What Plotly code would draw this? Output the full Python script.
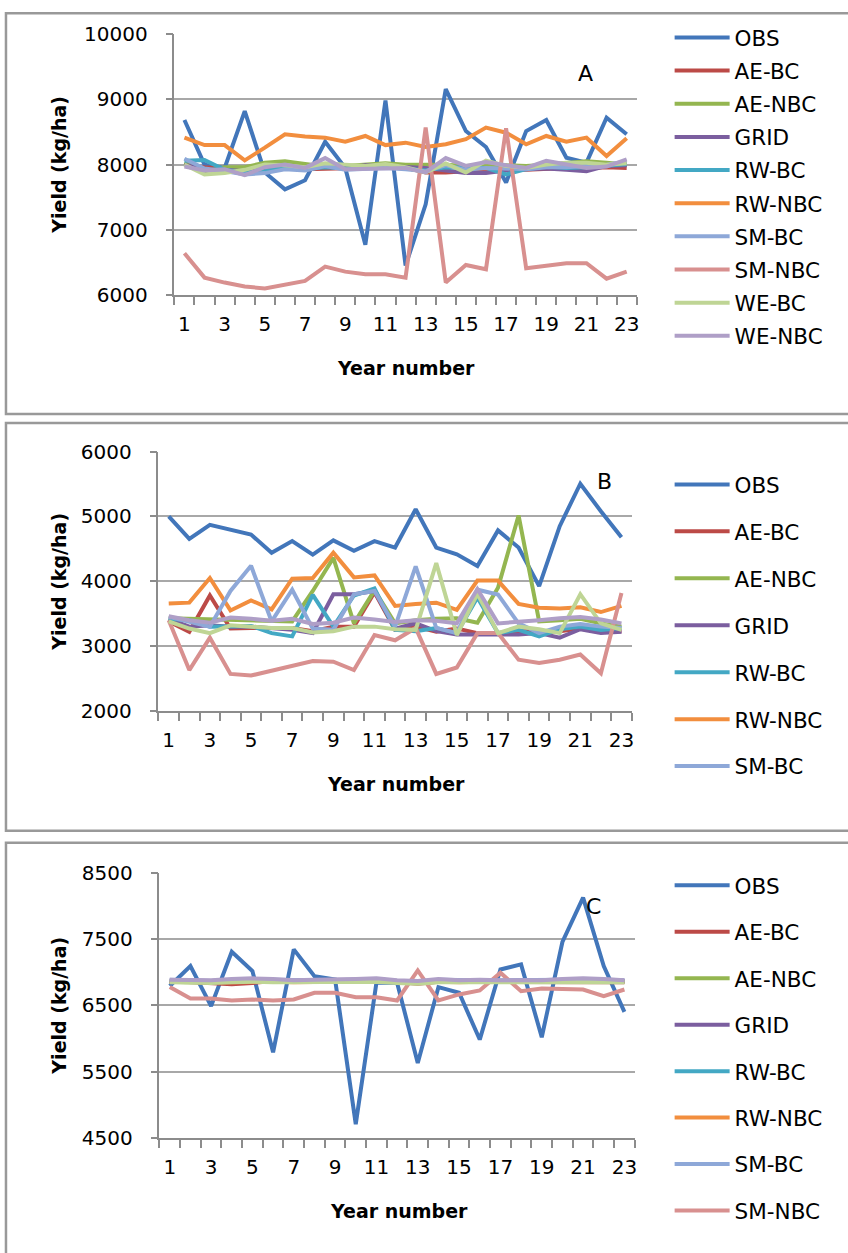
import plotly.graph_objects as go

years = list(range(1, 24))
tick_years = list(range(1, 24, 2))
tick_labels = [str(v) for v in tick_years]

series_names = ["OBS", "AE-BC", "AE-NBC", "GRID", "RW-BC", "RW-NBC", "SM-BC", "SM-NBC", "WE-BC", "WE-NBC"]
series_colors = ["#4276BA", "#BC4A47", "#94B650", "#7B5E9F", "#43A8C4", "#F28E3E",
                 "#8EA8D8", "#D8908F", "#BFD595", "#AF9FC7"]

# ---------- Panel A ----------
a_obs = [8685, 8000, 7950, 8820, 7880, 7620, 7760, 8350, 7950, 6770, 8985, 6450, 7390, 9160,
         8515, 8270, 7725, 8515, 8685, 8105, 8030, 8720, 8465]
a_ae_bc = [8000, 7960, 7940, 7950, 7950, 7960, 7930, 7940, 7950, 7960, 7960, 7950, 7880, 7880,
           7900, 7900, 7920, 7920, 7940, 7950, 7950, 7960, 7950]
a_ae_nbc = [8030, 7900, 7960, 7960, 8030, 8050, 8010, 7970, 7980, 8000, 8020, 8000, 8000, 8000,
            7980, 8000, 7990, 7980, 8000, 8030, 8050, 8030, 8000]
a_grid = [8000, 7930, 7920, 7900, 7930, 7960, 7950, 7970, 7950, 7990, 7980, 7960, 7950, 7910,
          7870, 7870, 7910, 7930, 7940, 7920, 7900, 7980, 7990]
a_rw_bc = [8060, 8070, 7920, 7880, 7900, 7960, 7930, 7960, 7940, 7960, 7970, 7940, 7910, 7960,
           7950, 7950, 7850, 7930, 7970, 7950, 7960, 7980, 8010]
a_rw_nbc = [8414, 8300, 8300, 8066, 8260, 8465, 8430, 8414, 8353, 8440, 8300, 8337, 8270, 8312,
            8390, 8568, 8490, 8312, 8440, 8353, 8414, 8133, 8405]
a_sm_bc = [8090, 7940, 7900, 7850, 7870, 7930, 7910, 7980, 7920, 7940, 7950, 7930, 7900, 7990,
           7920, 7950, 7940, 7930, 7960, 7960, 7980, 8000, 8050]
a_sm_nbc = [6640, 6266, 6190, 6130, 6100, 6164, 6215, 6435, 6358, 6317, 6317, 6266, 8568, 6190,
            6460, 6394, 8558, 6410, 6445, 6486, 6486, 6250, 6358]
a_we_bc = [8000, 7850, 7870, 7920, 8000, 7990, 7960, 8020, 8000, 7980, 8010, 7960, 7880, 8020,
           7880, 8060, 7980, 7950, 8000, 8030, 8030, 8000, 8020]
a_we_nbc = [7970, 7910, 7930, 7840, 7960, 8000, 7950, 8100, 7930, 7940, 7950, 7950, 7880, 8100,
            7980, 8040, 7990, 7950, 8060, 8010, 7950, 7970, 8080]

# ---------- Panel B ----------
b_obs = [5000, 4655, 4870, 4800, 4720, 4440, 4620, 4410, 4630, 4470, 4620, 4520, 5110, 4520,
         4415, 4235, 4785, 4520, 3925, 4850, 5505, 5080, 4680]
b_ae_bc = [3380, 3220, 3780, 3270, 3280, 3280, 3280, 3230, 3300, 3300, 3830, 3250, 3300, 3220,
           3270, 3200, 3200, 3230, 3230, 3230, 3270, 3220, 3230]
b_ae_nbc = [3430, 3420, 3410, 3400, 3400, 3390, 3380, 3850, 4360, 3350, 3860, 3350, 3400, 3420,
            3430, 3360, 3900, 5015, 3380, 3400, 3420, 3350, 3300]
b_grid = [3420, 3300, 3320, 3300, 3300, 3280, 3250, 3200, 3800, 3800, 3850, 3270, 3350, 3230,
          3180, 3180, 3180, 3180, 3200, 3130, 3260, 3200, 3220]
b_rw_bc = [3420, 3400, 3300, 3300, 3310, 3200, 3150, 3790, 3300, 3780, 3890, 3250, 3230, 3280,
           3200, 3750, 3200, 3250, 3150, 3260, 3300, 3250, 3280]
b_rw_nbc = [3655, 3670, 4050, 3550, 3705, 3565, 4040, 4050, 4440, 4060, 4090, 3620, 3650, 3670,
            3560, 4010, 4010, 3650, 3590, 3580, 3600, 3525, 3620]
b_sm_bc = [3450, 3380, 3300, 3850, 4240, 3380, 3870, 3270, 3250, 3800, 3850, 3300, 4230, 3280,
           3200, 3870, 3795, 3350, 3200, 3300, 3340, 3300, 3280]
b_sm_nbc = [3400, 2630, 3130, 2570, 2545, 2620, 2710, 2770, 2760, 2630, 3170, 3090, 3280, 2570,
            2670, 3200, 3200, 2790, 2740, 2790, 2870, 2580, 3820]
b_we_bc = [3380, 3270, 3200, 3320, 3300, 3280, 3280, 3210, 3230, 3300, 3300, 3260, 3250, 4280,
           3170, 3805, 3200, 3300, 3260, 3200, 3800, 3350, 3250]
b_we_nbc = [3460, 3400, 3360, 3440, 3420, 3390, 3420, 3340, 3360, 3440, 3410, 3370, 3400, 3390,
            3350, 3880, 3350, 3370, 3400, 3430, 3450, 3410, 3350]

# ---------- Panel C ----------
c_obs = [6795, 7096, 6490, 7313, 7020, 5793, 7348, 6944, 6894, 4707, 6843, 6843, 5631, 6778,
         6692, 5985, 7045, 7121, 6020, 7460, 8131, 7096, 6404]
c_ae_bc = [6870, 6850, 6840, 6820, 6840, 6870, 6860, 6860, 6870, 6870, 6880, 6860, 6830, 6860,
           6860, 6860, 6850, 6860, 6860, 6850, 6850, 6850, 6850]
c_ae_nbc = [6860, 6850, 6860, 6860, 6870, 6870, 6860, 6860, 6860, 6860, 6870, 6860, 6840, 6860,
            6860, 6870, 6870, 6870, 6880, 6880, 6890, 6880, 6870]
c_grid = [6880, 6870, 6870, 6880, 6890, 6880, 6880, 6880, 6880, 6880, 6890, 6870, 6860, 6880,
          6870, 6880, 6870, 6880, 6870, 6880, 6880, 6880, 6870]
c_rw_bc = [6870, 6860, 6850, 6860, 6870, 6860, 6860, 6860, 6860, 6860, 6870, 6850, 6840, 6870,
           6860, 6860, 6860, 6870, 6870, 6860, 6860, 6870, 6860]
c_rw_nbc = [6860, 6850, 6850, 6850, 6860, 6860, 6850, 6860, 6860, 6860, 6870, 6850, 6840, 6860,
            6850, 6860, 6860, 6860, 6860, 6860, 6870, 6860, 6860]
c_sm_bc = [6890, 6880, 6870, 6890, 6900, 6890, 6880, 6880, 6880, 6890, 6900, 6870, 6860, 6890,
           6880, 6880, 6880, 6880, 6880, 6890, 6900, 6890, 6880]
c_sm_nbc = [6778, 6606, 6606, 6576, 6591, 6576, 6591, 6692, 6692, 6626, 6626, 6576, 7030, 6576,
            6667, 6727, 6995, 6717, 6757, 6742, 6742, 6641, 6742]
c_we_bc = [6850, 6840, 6840, 6850, 6860, 6850, 6850, 6850, 6850, 6850, 6860, 6840, 6830, 6850,
           6850, 6850, 6850, 6850, 6860, 6860, 6860, 6850, 6850]
c_we_nbc = [6890, 6880, 6880, 6900, 6910, 6900, 6880, 6890, 6890, 6900, 6910, 6880, 6870, 6900,
            6880, 6890, 6880, 6880, 6880, 6900, 6910, 6900, 6880]

panel_a = [a_obs, a_ae_bc, a_ae_nbc, a_grid, a_rw_bc, a_rw_nbc, a_sm_bc, a_sm_nbc, a_we_bc, a_we_nbc]
panel_b = [b_obs, b_ae_bc, b_ae_nbc, b_grid, b_rw_bc, b_rw_nbc, b_sm_bc, b_sm_nbc, b_we_bc, b_we_nbc]
panel_c = [c_obs, c_ae_bc, c_ae_nbc, c_grid, c_rw_bc, c_rw_nbc, c_sm_bc, c_sm_nbc, c_we_bc, c_we_nbc]

W, H = 848, 1253
FONT = "DejaVu Sans"
GRAY = "#8C8C8C"


def px(x):
    return x / W


def py(y):
    # vertical position given in reference-picture pixels (corrected for the capture's vertical scale)
    yt = (y - 11) / 0.981
    return 1 - yt / H


fig = go.Figure()

panels = [
    (panel_a, "", "legend", 10),
    (panel_b, "2", "legend2", 7),
    (panel_c, "3", "legend3", 8),
]

for data, ax, leg, nleg in panels:
    for i, (name, color, vals) in enumerate(zip(series_names, series_colors, data)):
        fig.add_trace(go.Scatter(
            x=years, y=vals, mode="lines", name=name,
            line=dict(color=color, width=4),
            xaxis="x" + ax, yaxis="y" + ax,
            legend=leg, legendgroup=ax + name,
            showlegend=i < nleg,
        ))

geom = {
    "": dict(xd=[175, 639], yd=[294, 33.3], yr=[6000, 10000]),
    "2": dict(xd=[159, 634], yd=[710, 450.7], yr=[2000, 6000]),
    "3": dict(xd=[160, 637], yd=[1137, 872.3], yr=[4500, 8500]),
}

layout = dict(
    width=W, height=H,
    margin=dict(l=0, r=0, t=0, b=0),
    paper_bgcolor="white", plot_bgcolor="white",
    font=dict(family=FONT, size=20, color="black"),
    showlegend=True,
)

for ax, g in geom.items():
    layout["xaxis" + ax] = dict(
        domain=[px(g["xd"][0]), px(g["xd"][1])],
        anchor="y" + ax,
        range=[0.5, 23.5],
        tickmode="array", tickvals=tick_years, ticktext=tick_labels,
        ticks="", showgrid=False, zeroline=False,
        showline=True, linecolor=GRAY, linewidth=1.5,
        tickfont=dict(family=FONT, size=20, color="black"),
        ticklabelstandoff=10,
        minor=dict(tick0=0.5, dtick=1, ticks="outside", ticklen=8,
                   tickcolor=GRAY, tickwidth=1.5, showgrid=False),
    )
    layout["yaxis" + ax] = dict(
        domain=[py(g["yd"][0]), py(g["yd"][1])],
        anchor="x" + ax,
        range=g["yr"], dtick=1000, tick0=g["yr"][0], tickformat="d",
        showgrid=True, gridcolor="#A8A8A8", gridwidth=1.5,
        zeroline=False,
        showline=True, linecolor=GRAY, linewidth=1.5,
        ticks="outside", ticklen=7, tickcolor=GRAY, tickwidth=1.5,
        tickfont=dict(family=FONT, size=20, color="black"),
        ticklabelstandoff=14,
    )

leg_common = dict(
    xanchor="left", yanchor="top",
    font=dict(family=FONT, size=21.5, color="black"),
    bgcolor="rgba(0,0,0,0)", itemwidth=55,
    traceorder="grouped",
    itemclick=False, itemdoubleclick=False,
)
layout["legend"] = dict(leg_common, x=px(672), y=py(16), tracegroupgap=2.2)
layout["legend2"] = dict(leg_common, x=px(672), y=py(463), tracegroupgap=16)
layout["legend3"] = dict(leg_common, x=px(672), y=py(864), tracegroupgap=15.5)

annotations = []
for letter, (lx, ly) in zip(["A", "B", "C"], [(588, 73), (607, 481), (596, 906)]):
    annotations.append(dict(text=letter, x=px(lx), y=py(ly), xref="paper", yref="paper",
                            xanchor="center", yanchor="middle",
                            showarrow=False, font=dict(family=FONT, size=22, color="black")))
for tx, ty in [(407, 367), (397, 783), (400, 1210)]:
    annotations.append(dict(text="<b>Year number</b>", x=px(tx), y=py(ty), xref="paper", yref="paper",
                            xanchor="center", yanchor="middle",
                            showarrow=False, font=dict(family=FONT, size=19, color="black")))
for tx, ty in [(59, 164), (59, 581), (59, 1005)]:
    annotations.append(dict(text="<b>Yield (kg/ha)</b>", x=px(tx), y=py(ty), xref="paper", yref="paper",
                            xanchor="center", yanchor="middle",
                            textangle=-90, showarrow=False,
                            font=dict(family=FONT, size=19, color="black")))
layout["annotations"] = annotations

shapes = []
for top, bottom in [(12.3, 413), (422, 830), (842, 1290)]:
    shapes.append(dict(type="rect", xref="paper", yref="paper",
                       x0=px(6), x1=px(860), y0=py(bottom), y1=py(top),
                       line=dict(color="#999999", width=2.5), layer="below"))
layout["shapes"] = shapes

fig.update_layout(**layout)
fig.write_html("out.html")
